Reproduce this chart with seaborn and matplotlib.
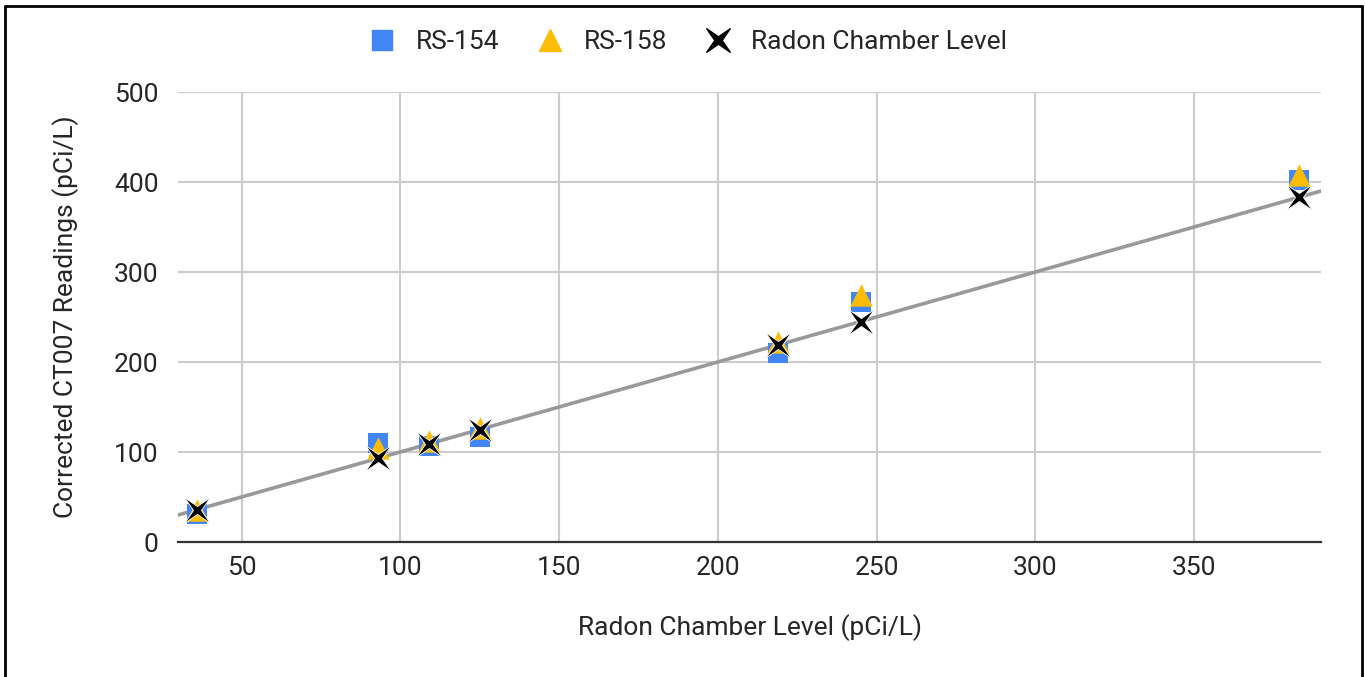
import numpy as np
import pandas as pd
import matplotlib
matplotlib.use("Agg")
import matplotlib.pyplot as plt
from matplotlib.lines import Line2D
from matplotlib.path import Path
import seaborn as sns

chamber = [36, 93, 109, 125, 219, 245, 383]
rs154 = [31, 110, 107, 117, 210, 267, 402]
rs158 = [36, 104, 112, 127, 222, 274, 408]
series_names = ["RS-154", "RS-158", "Radon Chamber Level"]
x_ticks = [50, 100, 150, 200, 250, 300, 350]
y_ticks = [0, 100, 200, 300, 400, 500]

df = pd.DataFrame({
    "x": chamber * 3,
    "y": rs154 + rs158 + chamber,
    "series": [series_names[0]] * 7 + [series_names[1]] * 7 + [series_names[2]] * 7,
})

sns.set_theme(style="white")
plt.rcParams['font.family'] = ['Roboto', 'DejaVu Sans']

# thin 4-armed star (x-like)
ang = np.deg2rad(np.arange(8) * 45 + 45)
rad = np.array([1.0, 0.22] * 4)
verts = np.column_stack([rad * np.cos(ang), rad * np.sin(ang)])
verts = np.vstack([verts, verts[:1]])
star = Path(verts, [Path.MOVETO] + [Path.LINETO] * 7 + [Path.CLOSEPOLY])

W, H = 1365, 677
fig = plt.figure(figsize=(W / 100, H / 100), dpi=100)
ax = fig.add_axes([178 / W, 1 - 542 / H, (1321 - 178) / W, (542 - 92) / H])

coef = np.polyfit(chamber, chamber, 1)
xl = np.array([30, 390])
ax.plot(xl, np.polyval(coef, xl), color="#999999", lw=2.6, zorder=2)

palette = {"RS-154": "#4285F4", "RS-158": "#FBBC04", "Radon Chamber Level": "#000000"}
markers = {"RS-154": "s", "RS-158": "^", "Radon Chamber Level": star}
sizes = {"RS-154": 220, "RS-158": 260, "Radon Chamber Level": 340}

for name in series_names:
    sub = df[df["series"] == name]
    is_star = name == "Radon Chamber Level"
    sns.scatterplot(data=sub, x="x", y="y", color=palette[name], marker=markers[name],
                    s=sizes[name], linewidth=0.6 if is_star else 0,
                    edgecolor="white" if is_star else palette[name],
                    ax=ax, zorder=3, legend=False)

ax.set_xlim(30, 390)
ax.set_ylim(0, 500)
ax.set_xticks(x_ticks)
ax.set_yticks(y_ticks)
ax.grid(True, color="#cccccc", lw=1.5)
ax.set_axisbelow(True)
for s in ["top", "right", "left"]:
    ax.spines[s].set_visible(False)
ax.spines["bottom"].set_color("#333333")
ax.spines["bottom"].set_linewidth(1.6)
ax.spines["bottom"].set_zorder(4)
fs = 19
tc = "#262626"
ax.tick_params(axis="both", length=0, labelsize=fs, labelcolor=tc)
ax.tick_params(axis="x", pad=10)
ax.tick_params(axis="y", pad=14)
ax.set_xlabel("Radon Chamber Level (pCi/L)", fontsize=fs, color=tc, labelpad=25)
ax.set_ylabel("Corrected CT007 Readings (pCi/L)", fontsize=fs, color=tc, labelpad=25)

handles = [
    Line2D([], [], ls="", marker="s", color=palette["RS-154"], markersize=14),
    Line2D([], [], ls="", marker="^", color=palette["RS-158"], markersize=16),
    Line2D([], [], ls="", marker=star, color="#000000", markersize=17),
]
fig.legend(handles, series_names, loc="center", bbox_to_anchor=(687 / W, 1 - 42 / H),
           ncol=3, frameon=False, fontsize=fs, handletextpad=0.65, columnspacing=1.35,
           labelcolor=tc, handlelength=1.2)

fig.add_artist(Line2D([5 / W, 5 / W], [0, 1 - 6 / H], color="black", lw=2, transform=fig.transFigure))
fig.add_artist(Line2D([5 / W, 1362 / W], [1 - 6 / H, 1 - 6 / H], color="black", lw=2, transform=fig.transFigure))
fig.add_artist(Line2D([1362 / W, 1362 / W], [0, 1 - 6 / H], color="black", lw=2, transform=fig.transFigure))

fig.savefig("out.png", dpi=100)
